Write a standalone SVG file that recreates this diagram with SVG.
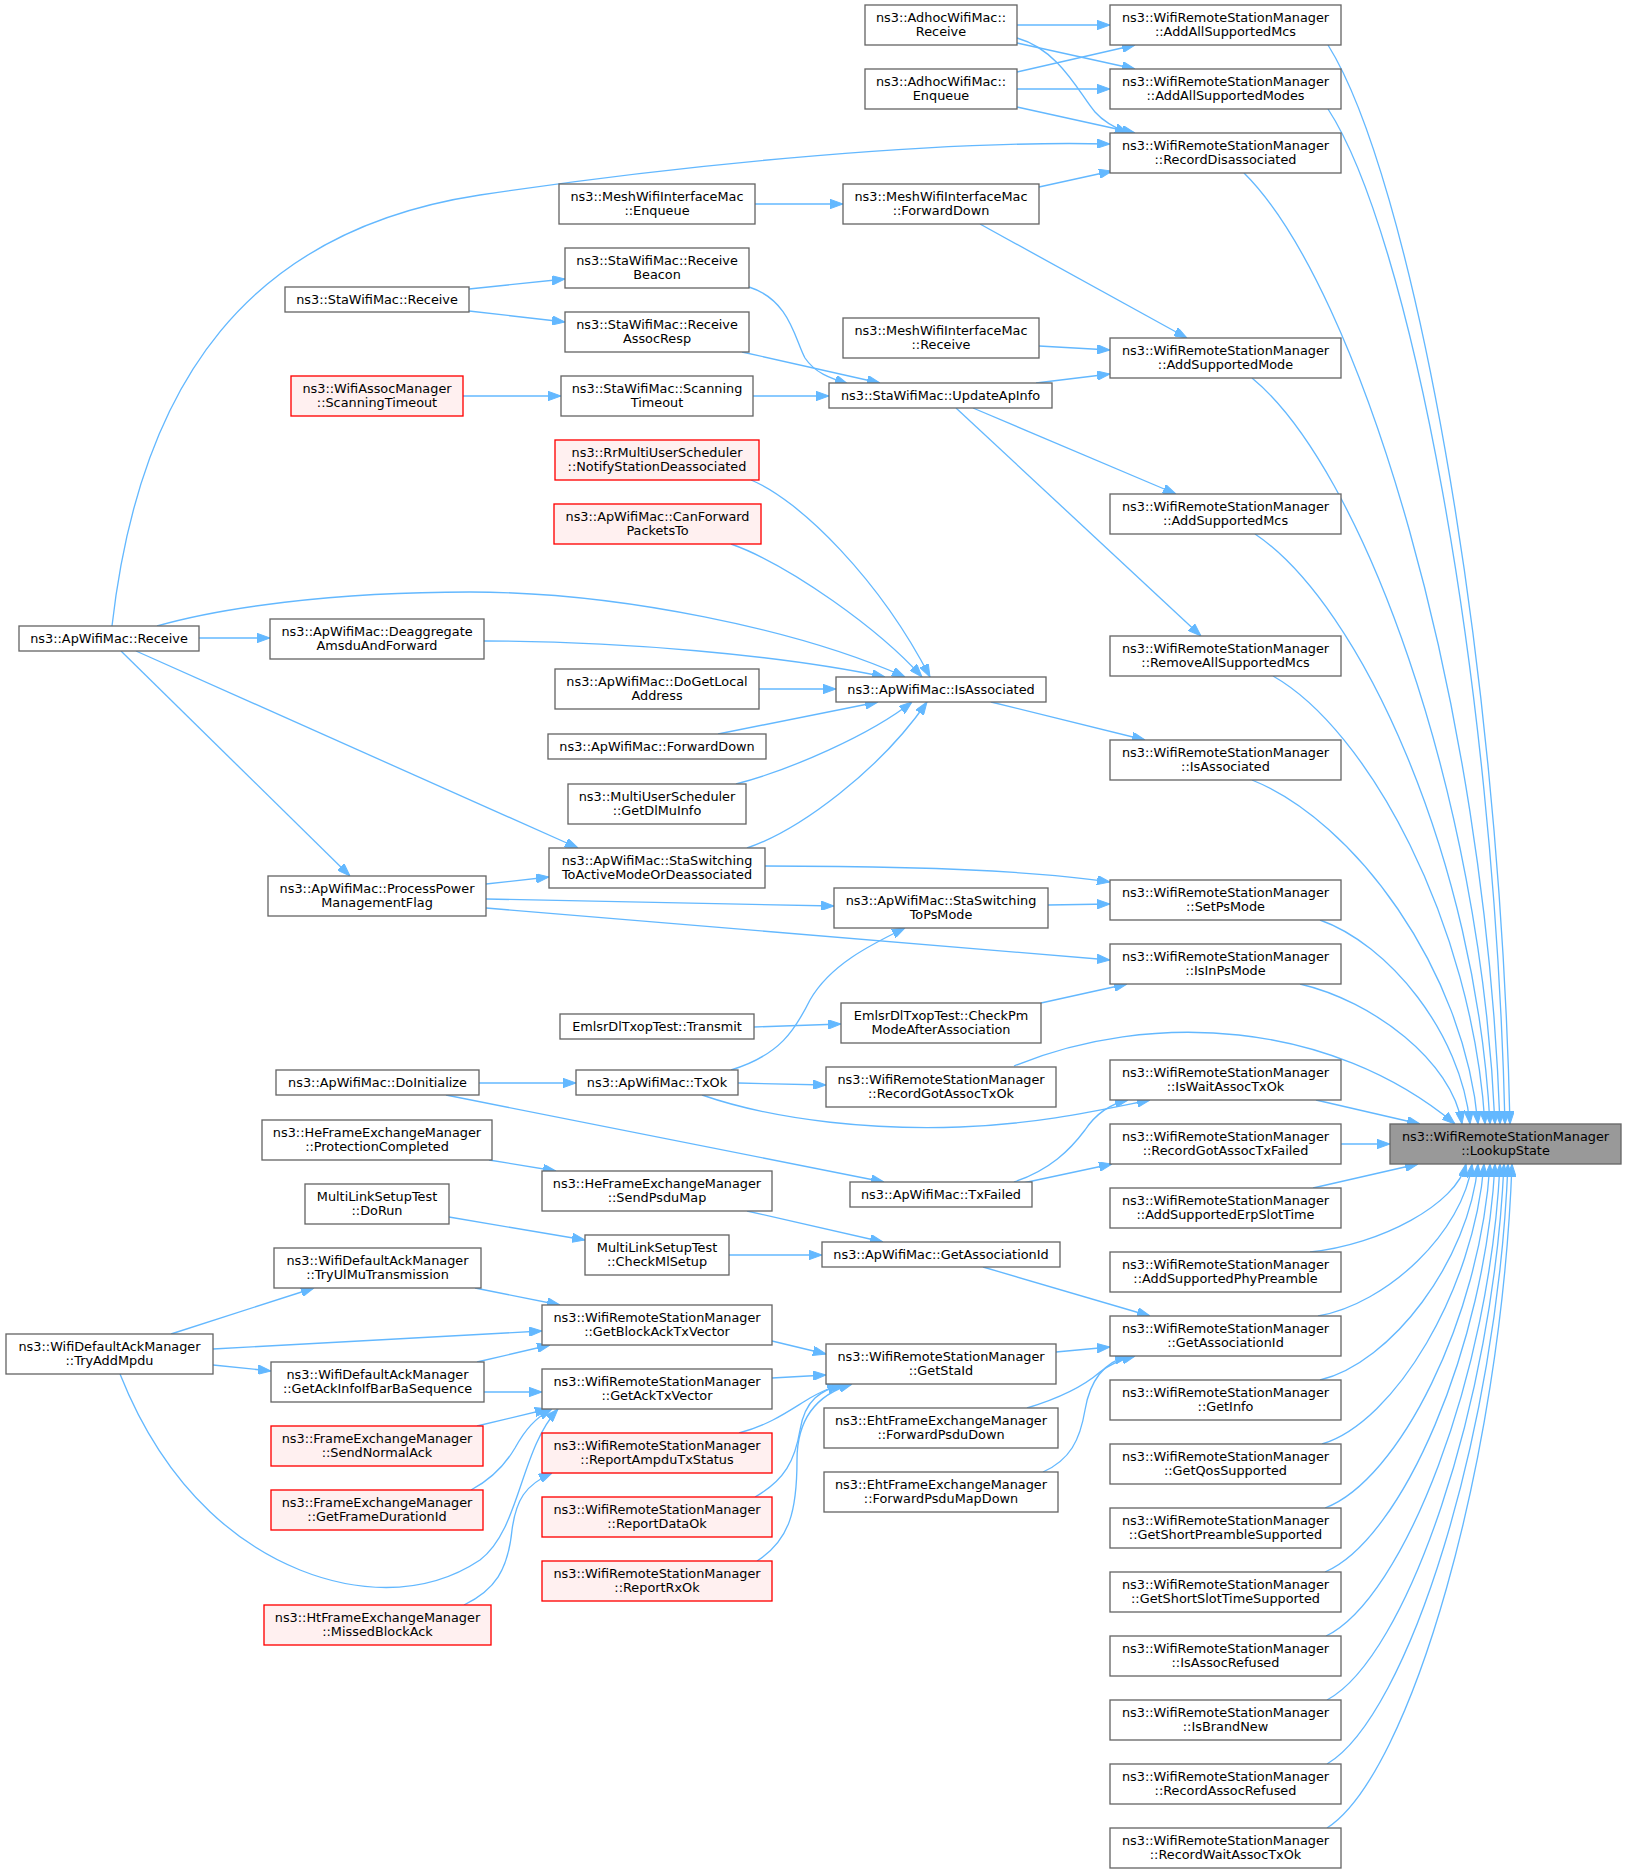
<svg xmlns="http://www.w3.org/2000/svg" width="1627" height="1873" viewBox="0 0 1627 1873">
<style>
.n rect{fill:#ffffff;stroke:#666666;stroke-width:1.33}
.r rect{fill:#fff0f0;stroke:#ff0000;stroke-width:1.33}
.h rect{fill:#999999;stroke:#666666;stroke-width:1.33}
text{font-family:"DejaVu Sans","Noto Sans",sans-serif;font-size:12.85px;text-anchor:middle;fill:#000000}
.e path{fill:none;stroke:#63b8ff;stroke-width:1.33;marker-end:url(#a)}
</style>
<defs>
<marker id="a" viewBox="0 0 13 9.4" refX="13" refY="4.7" markerWidth="13" markerHeight="9.4" markerUnits="userSpaceOnUse" orient="auto">
<path d="M0,0 L13,4.7 L0,9.4 z" fill="#63b8ff" stroke="#63b8ff" stroke-width="1"/>
</marker>
</defs>
<rect x="0" y="0" width="1627" height="1873" fill="#ffffff"/>
<g id="edges" class="e">
<path d="M1328,45 C1409,174 1499,638 1510,1124"/>
<path d="M1328,109 C1408,231 1494,667 1505,1124"/>
<path d="M1244,173 C1359,287 1485,696 1500,1124"/>
<path d="M1252,378 C1361,468 1480,788 1495,1124"/>
<path d="M1255,534 C1361,605 1476,859 1490,1124"/>
<path d="M1273,676 C1368,730 1472,922 1485,1124"/>
<path d="M1252,780 C1354,821 1464,969 1478,1124"/>
<path d="M1320,920 C1388,944 1461,1032 1470,1124"/>
<path d="M1300,984 C1373,1001 1452,1061 1462,1124"/>
<path d="M1014,1066 C1150,1010 1330,1020 1455,1124"/>
<path d="M1316,1100 L1420,1124"/>
<path d="M1341,1144 L1390,1144"/>
<path d="M1313,1188 L1418,1164"/>
<path d="M1310,1252 C1380,1245 1457,1204 1466,1164"/>
<path d="M1318,1316 C1387,1304 1463,1232 1472,1164"/>
<path d="M1320,1380 C1391,1363 1469,1261 1478,1164"/>
<path d="M1322,1444 C1395,1422 1474,1290 1484,1164"/>
<path d="M1325,1508 C1399,1480 1480,1319 1490,1164"/>
<path d="M1325,1572 C1402,1539 1485,1348 1495,1164"/>
<path d="M1326,1636 C1404,1598 1490,1376 1500,1164"/>
<path d="M1327,1700 C1407,1657 1493,1405 1504,1164"/>
<path d="M1327,1764 C1408,1716 1497,1434 1508,1164"/>
<path d="M1327,1828 C1410,1775 1501,1463 1512,1164"/>
<path d="M1017,25 L1110,25"/>
<path d="M1017,43 L1135,69"/>
<path d="M1017,38 C1060,50 1080,95 1095,112 C1103,121 1115,128 1128,133"/>
<path d="M1017,72 L1135,45"/>
<path d="M1017,89 L1110,89"/>
<path d="M1017,107 L1135,133"/>
<path d="M1039,187 L1112,171"/>
<path d="M980,224 L1187,338"/>
<path d="M1039,346 L1110,350"/>
<path d="M1036,383 L1110,374"/>
<path d="M973,408 L1176,494"/>
<path d="M956,408 L1201,636"/>
<path d="M991,702 L1145,740"/>
<path d="M765,866 C900,866 1030,870 1110,882"/>
<path d="M1048,905 L1110,904"/>
<path d="M486,908 L1110,960"/>
<path d="M1041,1003 L1127,984"/>
<path d="M702,1095 C780,1122 880,1130 960,1127 C1040,1124 1100,1110 1150,1100"/>
<path d="M1014,1182 C1050,1170 1070,1150 1085,1130 C1095,1115 1110,1104 1128,1100"/>
<path d="M1023,1183 L1112,1164"/>
<path d="M983,1267 L1150,1316"/>
<path d="M1056,1352 L1110,1347"/>
<path d="M1027,1408 C1060,1398 1085,1385 1100,1372 C1110,1364 1120,1360 1135,1356"/>
<path d="M1043,1472 C1070,1460 1080,1440 1085,1410 C1090,1380 1105,1362 1128,1356"/>
<path d="M112,626 C140,380 250,230 480,195 C700,162 950,140 1110,144"/>
<path d="M755,204 L843,204"/>
<path d="M749,287 C790,300 795,340 805,358 C815,373 830,378 848,384"/>
<path d="M742,352 L880,383"/>
<path d="M753,396 L829,396"/>
<path d="M751,480 C800,500 880,580 930,677"/>
<path d="M731,544 C790,565 880,630 922,677"/>
<path d="M157,626 C220,608 330,592 470,592 C620,592 800,630 905,677"/>
<path d="M484,641 C620,641 780,655 885,677"/>
<path d="M759,689 L836,689"/>
<path d="M718,734 L878,702"/>
<path d="M736,784 C790,770 870,735 912,702"/>
<path d="M747,848 C800,830 880,770 927,702"/>
<path d="M486,899 L834,906"/>
<path d="M754,1027 L841,1024"/>
<path d="M731,1070 C780,1055 795,1030 810,1000 C830,965 870,945 905,928"/>
<path d="M738,1083 L826,1085"/>
<path d="M446,1095 L884,1182"/>
<path d="M747,1211 L883,1242"/>
<path d="M729,1255 L822,1255"/>
<path d="M772,1341 L826,1354"/>
<path d="M772,1378 L826,1375"/>
<path d="M739,1433 C770,1425 790,1410 810,1398 C820,1392 830,1388 840,1384"/>
<path d="M755,1497 C785,1480 795,1460 800,1430 C805,1400 820,1390 845,1384"/>
<path d="M757,1561 C790,1540 797,1510 797,1460 C797,1420 815,1395 852,1384"/>
<path d="M469,289 L565,279"/>
<path d="M469,311 L565,322"/>
<path d="M463,396 L561,396"/>
<path d="M486,884 L549,877"/>
<path d="M136,651 L578,848"/>
<path d="M199,638 L270,638"/>
<path d="M121,651 L350,876"/>
<path d="M479,1083 L576,1083"/>
<path d="M489,1160 L556,1171"/>
<path d="M449,1217 L585,1240"/>
<path d="M475,1288 L560,1305"/>
<path d="M171,1334 L314,1288"/>
<path d="M213,1349 L542,1331"/>
<path d="M213,1365 L271,1371"/>
<path d="M477,1362 L550,1345"/>
<path d="M484,1392 L542,1392"/>
<path d="M477,1426 L548,1409"/>
<path d="M471,1490 C490,1480 505,1465 515,1448 C525,1430 535,1418 552,1409"/>
<path d="M120,1374 C170,1500 250,1550 300,1570 C350,1590 420,1600 480,1560 C520,1530 520,1450 558,1409"/>
<path d="M464,1605 C495,1590 508,1570 512,1530 C516,1500 525,1485 552,1473"/>
</g>
<g id="R0" class="h"><rect x="1390" y="1124" width="231" height="40"/><text x="1505.5" y="1140.8">ns3::WifiRemoteStationManager</text><text x="1505.5" y="1155.4">::LookupState</text></g>
<g id="A1" class="n"><rect x="1110" y="5" width="231" height="40"/><text x="1225.5" y="21.8">ns3::WifiRemoteStationManager</text><text x="1225.5" y="36.4">::AddAllSupportedMcs</text></g>
<g id="A2" class="n"><rect x="1110" y="69" width="231" height="40"/><text x="1225.5" y="85.8">ns3::WifiRemoteStationManager</text><text x="1225.5" y="100.4">::AddAllSupportedModes</text></g>
<g id="A3" class="n"><rect x="1110" y="133" width="231" height="40"/><text x="1225.5" y="149.8">ns3::WifiRemoteStationManager</text><text x="1225.5" y="164.4">::RecordDisassociated</text></g>
<g id="A4" class="n"><rect x="1110" y="338" width="231" height="40"/><text x="1225.5" y="354.8">ns3::WifiRemoteStationManager</text><text x="1225.5" y="369.4">::AddSupportedMode</text></g>
<g id="A5" class="n"><rect x="1110" y="494" width="231" height="40"/><text x="1225.5" y="510.8">ns3::WifiRemoteStationManager</text><text x="1225.5" y="525.4">::AddSupportedMcs</text></g>
<g id="A6" class="n"><rect x="1110" y="636" width="231" height="40"/><text x="1225.5" y="652.8">ns3::WifiRemoteStationManager</text><text x="1225.5" y="667.4">::RemoveAllSupportedMcs</text></g>
<g id="A7" class="n"><rect x="1110" y="740" width="231" height="40"/><text x="1225.5" y="756.8">ns3::WifiRemoteStationManager</text><text x="1225.5" y="771.4">::IsAssociated</text></g>
<g id="A8" class="n"><rect x="1110" y="880" width="231" height="40"/><text x="1225.5" y="896.8">ns3::WifiRemoteStationManager</text><text x="1225.5" y="911.4">::SetPsMode</text></g>
<g id="A9" class="n"><rect x="1110" y="944" width="231" height="40"/><text x="1225.5" y="960.8">ns3::WifiRemoteStationManager</text><text x="1225.5" y="975.4">::IsInPsMode</text></g>
<g id="A10" class="n"><rect x="1110" y="1060" width="231" height="40"/><text x="1225.5" y="1076.8">ns3::WifiRemoteStationManager</text><text x="1225.5" y="1091.4">::IsWaitAssocTxOk</text></g>
<g id="A11" class="n"><rect x="1110" y="1124" width="231" height="40"/><text x="1225.5" y="1140.8">ns3::WifiRemoteStationManager</text><text x="1225.5" y="1155.4">::RecordGotAssocTxFailed</text></g>
<g id="A12" class="n"><rect x="1110" y="1188" width="231" height="40"/><text x="1225.5" y="1204.8">ns3::WifiRemoteStationManager</text><text x="1225.5" y="1219.4">::AddSupportedErpSlotTime</text></g>
<g id="A13" class="n"><rect x="1110" y="1252" width="231" height="40"/><text x="1225.5" y="1268.8">ns3::WifiRemoteStationManager</text><text x="1225.5" y="1283.4">::AddSupportedPhyPreamble</text></g>
<g id="A14" class="n"><rect x="1110" y="1316" width="231" height="40"/><text x="1225.5" y="1332.8">ns3::WifiRemoteStationManager</text><text x="1225.5" y="1347.4">::GetAssociationId</text></g>
<g id="A15" class="n"><rect x="1110" y="1380" width="231" height="40"/><text x="1225.5" y="1396.8">ns3::WifiRemoteStationManager</text><text x="1225.5" y="1411.4">::GetInfo</text></g>
<g id="A16" class="n"><rect x="1110" y="1444" width="231" height="40"/><text x="1225.5" y="1460.8">ns3::WifiRemoteStationManager</text><text x="1225.5" y="1475.4">::GetQosSupported</text></g>
<g id="A17" class="n"><rect x="1110" y="1508" width="231" height="40"/><text x="1225.5" y="1524.8">ns3::WifiRemoteStationManager</text><text x="1225.5" y="1539.4">::GetShortPreambleSupported</text></g>
<g id="A18" class="n"><rect x="1110" y="1572" width="231" height="40"/><text x="1225.5" y="1588.8">ns3::WifiRemoteStationManager</text><text x="1225.5" y="1603.4">::GetShortSlotTimeSupported</text></g>
<g id="A19" class="n"><rect x="1110" y="1636" width="231" height="40"/><text x="1225.5" y="1652.8">ns3::WifiRemoteStationManager</text><text x="1225.5" y="1667.4">::IsAssocRefused</text></g>
<g id="A20" class="n"><rect x="1110" y="1700" width="231" height="40"/><text x="1225.5" y="1716.8">ns3::WifiRemoteStationManager</text><text x="1225.5" y="1731.4">::IsBrandNew</text></g>
<g id="A21" class="n"><rect x="1110" y="1764" width="231" height="40"/><text x="1225.5" y="1780.8">ns3::WifiRemoteStationManager</text><text x="1225.5" y="1795.4">::RecordAssocRefused</text></g>
<g id="A22" class="n"><rect x="1110" y="1828" width="231" height="40"/><text x="1225.5" y="1844.8">ns3::WifiRemoteStationManager</text><text x="1225.5" y="1859.4">::RecordWaitAssocTxOk</text></g>
<g id="B1" class="n"><rect x="865" y="5" width="152" height="40"/><text x="941" y="21.8">ns3::AdhocWifiMac::</text><text x="941" y="36.4">Receive</text></g>
<g id="B2" class="n"><rect x="865" y="69" width="152" height="40"/><text x="941" y="85.8">ns3::AdhocWifiMac::</text><text x="941" y="100.4">Enqueue</text></g>
<g id="B3" class="n"><rect x="843" y="184" width="196" height="40"/><text x="941" y="200.8">ns3::MeshWifiInterfaceMac</text><text x="941" y="215.4">::ForwardDown</text></g>
<g id="B4" class="n"><rect x="843" y="318" width="196" height="40"/><text x="941" y="334.8">ns3::MeshWifiInterfaceMac</text><text x="941" y="349.4">::Receive</text></g>
<g id="B5" class="n"><rect x="829" y="383" width="223" height="25"/><text x="940.5" y="399.5">ns3::StaWifiMac::UpdateApInfo</text></g>
<g id="B6" class="n"><rect x="836" y="677" width="210" height="25"/><text x="941" y="693.5">ns3::ApWifiMac::IsAssociated</text></g>
<g id="B7" class="n"><rect x="834" y="888" width="214" height="40"/><text x="941" y="904.8">ns3::ApWifiMac::StaSwitching</text><text x="941" y="919.4">ToPsMode</text></g>
<g id="B8" class="n"><rect x="841" y="1003" width="200" height="40"/><text x="941" y="1019.8">EmlsrDlTxopTest::CheckPm</text><text x="941" y="1034.4">ModeAfterAssociation</text></g>
<g id="B9" class="n"><rect x="826" y="1067" width="230" height="40"/><text x="941" y="1083.8">ns3::WifiRemoteStationManager</text><text x="941" y="1098.4">::RecordGotAssocTxOk</text></g>
<g id="B10" class="n"><rect x="850" y="1182" width="182" height="25"/><text x="941" y="1198.5">ns3::ApWifiMac::TxFailed</text></g>
<g id="B11" class="n"><rect x="822" y="1242" width="238" height="25"/><text x="941" y="1258.5">ns3::ApWifiMac::GetAssociationId</text></g>
<g id="B12" class="n"><rect x="826" y="1344" width="230" height="40"/><text x="941" y="1360.8">ns3::WifiRemoteStationManager</text><text x="941" y="1375.4">::GetStaId</text></g>
<g id="B13" class="n"><rect x="824" y="1408" width="234" height="40"/><text x="941" y="1424.8">ns3::EhtFrameExchangeManager</text><text x="941" y="1439.4">::ForwardPsduDown</text></g>
<g id="B14" class="n"><rect x="824" y="1472" width="234" height="40"/><text x="941" y="1488.8">ns3::EhtFrameExchangeManager</text><text x="941" y="1503.4">::ForwardPsduMapDown</text></g>
<g id="C1" class="n"><rect x="559" y="184" width="196" height="40"/><text x="657" y="200.8">ns3::MeshWifiInterfaceMac</text><text x="657" y="215.4">::Enqueue</text></g>
<g id="C2" class="n"><rect x="565" y="248" width="184" height="40"/><text x="657" y="264.8">ns3::StaWifiMac::Receive</text><text x="657" y="279.4">Beacon</text></g>
<g id="C3" class="n"><rect x="565" y="312" width="184" height="40"/><text x="657" y="328.8">ns3::StaWifiMac::Receive</text><text x="657" y="343.4">AssocResp</text></g>
<g id="C4" class="n"><rect x="561" y="376" width="192" height="40"/><text x="657" y="392.8">ns3::StaWifiMac::Scanning</text><text x="657" y="407.4">Timeout</text></g>
<g id="C5" class="r"><rect x="555" y="440" width="204" height="40"/><text x="657" y="456.8">ns3::RrMultiUserScheduler</text><text x="657" y="471.4">::NotifyStationDeassociated</text></g>
<g id="C6" class="r"><rect x="554" y="504" width="207" height="40"/><text x="657.5" y="520.8">ns3::ApWifiMac::CanForward</text><text x="657.5" y="535.4">PacketsTo</text></g>
<g id="C7" class="n"><rect x="555" y="669" width="204" height="40"/><text x="657" y="685.8">ns3::ApWifiMac::DoGetLocal</text><text x="657" y="700.4">Address</text></g>
<g id="C8" class="n"><rect x="548" y="734" width="218" height="25"/><text x="657" y="750.5">ns3::ApWifiMac::ForwardDown</text></g>
<g id="C9" class="n"><rect x="568" y="784" width="178" height="40"/><text x="657" y="800.8">ns3::MultiUserScheduler</text><text x="657" y="815.4">::GetDlMuInfo</text></g>
<g id="C10" class="n"><rect x="549" y="848" width="216" height="40"/><text x="657" y="864.8">ns3::ApWifiMac::StaSwitching</text><text x="657" y="879.4">ToActiveModeOrDeassociated</text></g>
<g id="C11" class="n"><rect x="560" y="1014" width="194" height="25"/><text x="657" y="1030.5">EmlsrDlTxopTest::Transmit</text></g>
<g id="C12" class="n"><rect x="576" y="1070" width="162" height="25"/><text x="657" y="1086.5">ns3::ApWifiMac::TxOk</text></g>
<g id="C13" class="n"><rect x="542" y="1171" width="230" height="40"/><text x="657" y="1187.8">ns3::HeFrameExchangeManager</text><text x="657" y="1202.4">::SendPsduMap</text></g>
<g id="C14" class="n"><rect x="585" y="1235" width="144" height="40"/><text x="657" y="1251.8">MultiLinkSetupTest</text><text x="657" y="1266.4">::CheckMlSetup</text></g>
<g id="C15" class="n"><rect x="542" y="1305" width="230" height="40"/><text x="657" y="1321.8">ns3::WifiRemoteStationManager</text><text x="657" y="1336.4">::GetBlockAckTxVector</text></g>
<g id="C16" class="n"><rect x="542" y="1369" width="230" height="40"/><text x="657" y="1385.8">ns3::WifiRemoteStationManager</text><text x="657" y="1400.4">::GetAckTxVector</text></g>
<g id="C17" class="r"><rect x="542" y="1433" width="230" height="40"/><text x="657" y="1449.8">ns3::WifiRemoteStationManager</text><text x="657" y="1464.4">::ReportAmpduTxStatus</text></g>
<g id="C18" class="r"><rect x="542" y="1497" width="230" height="40"/><text x="657" y="1513.8">ns3::WifiRemoteStationManager</text><text x="657" y="1528.4">::ReportDataOk</text></g>
<g id="C19" class="r"><rect x="542" y="1561" width="230" height="40"/><text x="657" y="1577.8">ns3::WifiRemoteStationManager</text><text x="657" y="1592.4">::ReportRxOk</text></g>
<g id="D1" class="n"><rect x="285" y="287" width="184" height="25"/><text x="377" y="303.5">ns3::StaWifiMac::Receive</text></g>
<g id="D2" class="r"><rect x="291" y="376" width="172" height="40"/><text x="377" y="392.8">ns3::WifiAssocManager</text><text x="377" y="407.4">::ScanningTimeout</text></g>
<g id="D3" class="n"><rect x="270" y="619" width="214" height="40"/><text x="377" y="635.8">ns3::ApWifiMac::Deaggregate</text><text x="377" y="650.4">AmsduAndForward</text></g>
<g id="D4" class="n"><rect x="268" y="876" width="218" height="40"/><text x="377" y="892.8">ns3::ApWifiMac::ProcessPower</text><text x="377" y="907.4">ManagementFlag</text></g>
<g id="D5" class="n"><rect x="276" y="1070" width="203" height="25"/><text x="377.5" y="1086.5">ns3::ApWifiMac::DoInitialize</text></g>
<g id="D6" class="n"><rect x="262" y="1120" width="230" height="40"/><text x="377" y="1136.8">ns3::HeFrameExchangeManager</text><text x="377" y="1151.4">::ProtectionCompleted</text></g>
<g id="D7" class="n"><rect x="305" y="1184" width="144" height="40"/><text x="377" y="1200.8">MultiLinkSetupTest</text><text x="377" y="1215.4">::DoRun</text></g>
<g id="D8" class="n"><rect x="274" y="1248" width="207" height="40"/><text x="377.5" y="1264.8">ns3::WifiDefaultAckManager</text><text x="377.5" y="1279.4">::TryUlMuTransmission</text></g>
<g id="D9" class="n"><rect x="271" y="1362" width="213" height="40"/><text x="377.5" y="1378.8">ns3::WifiDefaultAckManager</text><text x="377.5" y="1393.4">::GetAckInfoIfBarBaSequence</text></g>
<g id="D10" class="r"><rect x="271" y="1426" width="212" height="40"/><text x="377" y="1442.8">ns3::FrameExchangeManager</text><text x="377" y="1457.4">::SendNormalAck</text></g>
<g id="D11" class="r"><rect x="271" y="1490" width="212" height="40"/><text x="377" y="1506.8">ns3::FrameExchangeManager</text><text x="377" y="1521.4">::GetFrameDurationId</text></g>
<g id="D12" class="r"><rect x="264" y="1605" width="227" height="40"/><text x="377.5" y="1621.8">ns3::HtFrameExchangeManager</text><text x="377.5" y="1636.4">::MissedBlockAck</text></g>
<g id="E1" class="n"><rect x="19" y="626" width="180" height="25"/><text x="109" y="642.5">ns3::ApWifiMac::Receive</text></g>
<g id="E2" class="n"><rect x="6" y="1334" width="207" height="40"/><text x="109.5" y="1350.8">ns3::WifiDefaultAckManager</text><text x="109.5" y="1365.4">::TryAddMpdu</text></g>
</svg>
